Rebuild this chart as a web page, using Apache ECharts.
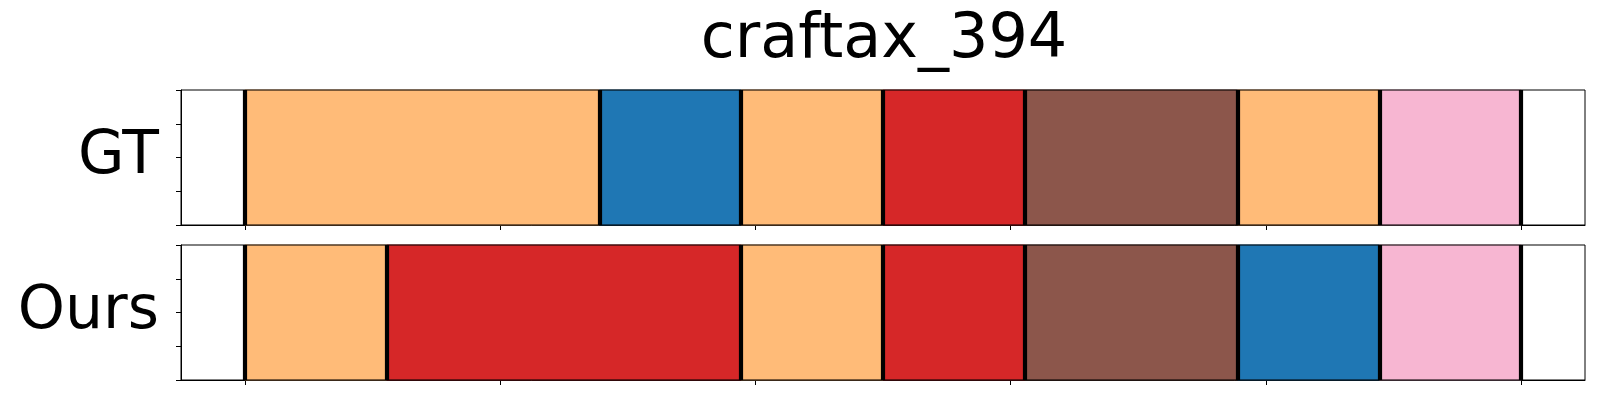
<!DOCTYPE html>
<html>
<head>
<meta charset="utf-8">
<script src="https://cdn.jsdelivr.net/npm/echarts@6/dist/echarts.min.js"></script>
<style>html,body{margin:0;padding:0;background:#fff;}#c{width:1600px;height:400px;}</style>
</head>
<body>
<div id="c"></div>
<script>
const titleText = 'craftax_394';
const rowNames = ['GT', 'Ours'];
const gtBounds = [0, 138.9, 194.4, 250, 305.6, 388.9, 444.4, 500];
const gtLabels = ['orange', 'blue', 'orange', 'red', 'brown', 'orange', 'pink'];
const oursBounds = [0, 55.6, 194.4, 250, 305.6, 388.9, 444.4, 500];
const oursLabels = ['orange', 'red', 'orange', 'red', 'brown', 'blue', 'pink'];
const xTicks = [0, 100, 200, 300, 400, 500];
const colorMap = {orange: '#ffbb78', blue: '#1f77b4', red: '#d62728', brown: '#8c564b', pink: '#f7b6d2'};
const edgeMap = {orange: '#e9a565', blue: '#1c6aa2', red: '#c02324', brown: '#7e4d43', pink: '#dea3bd'};

const FONT = 'DejaVu Sans';
const grids = [
  {left: 181, top: 90, width: 1404, height: 135},
  {left: 181, top: 245, width: 1404, height: 135}
];
const allBounds = [gtBounds, oursBounds];
const allLabels = [gtLabels, oursLabels];

const option = {
  animation: false,
  backgroundColor: '#fff',
  title: {
    text: titleText, left: 879, top: 5, textAlign: 'center',
    textStyle: {fontFamily: FONT, fontSize: 62, fontWeight: 'normal', color: '#000'}
  },
  grid: grids.map(g => Object.assign({show: true, borderColor: '#000', borderWidth: 1, backgroundColor: 'transparent', z: 10}, g)),
  xAxis: grids.map((g, i) => ({
    type: 'value', gridIndex: i, min: -25, max: 525,
    axisLine: {show: true, onZero: false, lineStyle: {color: '#000', width: 1}},
    axisTick: {show: true, length: 5, lineStyle: {color: '#000', width: 1}, customValues: xTicks},
    axisLabel: {show: false},
    splitLine: {show: false}
  })),
  yAxis: grids.map((g, i) => ({
    type: 'value', gridIndex: i, min: 0, max: 1, interval: 0.25,
    name: rowNames[i], nameLocation: 'middle', nameRotate: 0, nameGap: 22,
    nameTextStyle: {fontFamily: FONT, fontSize: 60, color: '#000', align: 'right', verticalAlign: 'middle', padding: [0, 0, 12, 0]},
    axisLine: {show: true, onZero: false, lineStyle: {color: '#000', width: 1}},
    axisTick: {show: true, length: 5, lineStyle: {color: '#000', width: 1}},
    axisLabel: {show: false},
    splitLine: {show: false}
  })),
  series: []
};

allBounds.forEach((bounds, i) => {
  const labels = allLabels[i];
  const segs = labels.map((lab, k) => [bounds[k], bounds[k + 1], lab]);
  option.series.push({
    type: 'custom', xAxisIndex: i, yAxisIndex: i, z: 2,
    data: segs.map(s => [s[0], s[1]]),
    renderItem: function (params, api) {
      const s = segs[params.dataIndex];
      const p0 = api.coord([api.value(0), 1]);
      const p1 = api.coord([api.value(1), 0]);
      return {
        type: 'rect',
        shape: {x: p0[0], y: p0[1], width: p1[0] - p0[0], height: p1[1] - p0[1]},
        style: {fill: colorMap[s[2]], stroke: edgeMap[s[2]], lineWidth: 1}
      };
    },
    markLine: {
      silent: true, symbol: 'none', animation: false,
      label: {show: false},
      lineStyle: {color: '#000', width: 4.2, type: 'solid'},
      data: bounds.map(b => ({xAxis: b}))
    }
  });
});

const chart = echarts.init(document.getElementById('c'), null, {renderer: 'canvas'});
chart.setOption(option);
</script>
</body>
</html>
